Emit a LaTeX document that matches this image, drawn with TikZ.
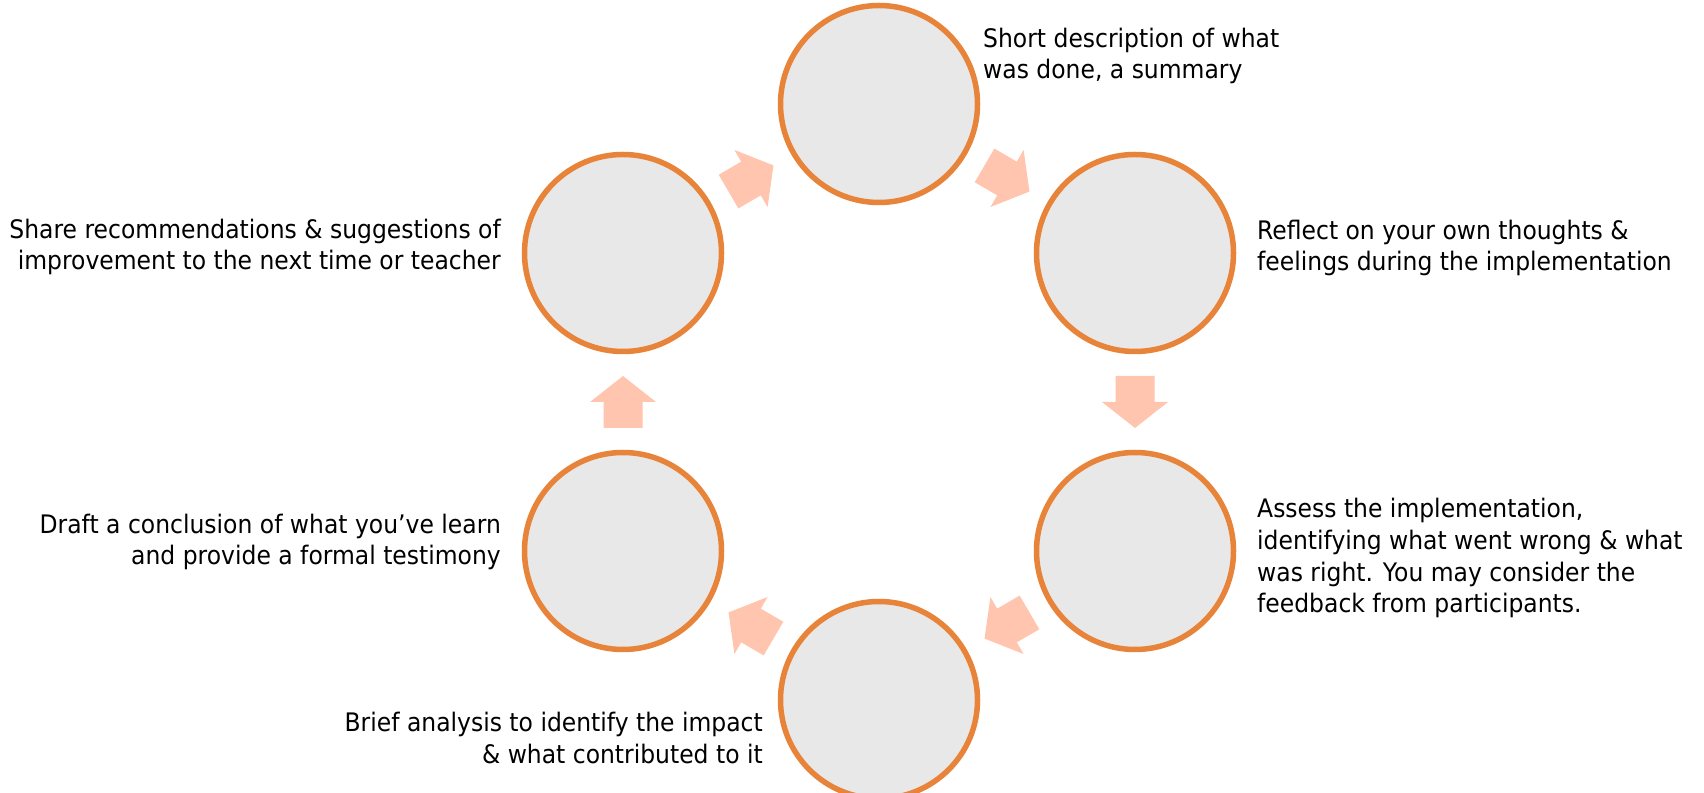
\documentclass[tikz,border=0pt]{standalone}
\usepackage{fontspec}
\setmainfont[FakeStretch=0.92]{DejaVu Sans}
\usetikzlibrary{calc}
\definecolor{ringorange}{HTML}{E8833A}
\definecolor{ringfill}{HTML}{E8E8E8}
\definecolor{arrowpink}{HTML}{FFC5AE}
\newcommand{\cyclearrow}[3]{%
  \fill[blockarrow, shift={($(#1.center)!0.5!(#2.center)$)}, rotate=#3]
    (-26,-19.5) -- (0,-19.5) -- (0,-33) -- (26,0) -- (0,33) -- (0,19.5) -- (-26,19.5) -- cycle;}
\begin{document}
\begin{tikzpicture}[x=1pt,y=1pt,
  stage/.style={circle, draw=ringorange, line width=5.5pt, fill=ringfill, minimum size=197pt, inner sep=0pt},
  lbl/.style={font=\fontsize{25.5}{31.7}\selectfont, inner sep=0pt, text=black},
  blockarrow/.style={fill=arrowpink, draw=none}]
\useasboundingbox (0,0) rectangle (1704,792);
\node[stage] (s1) at (879,688) {};
\node[stage] (s2) at (1135,539) {};
\node[stage] (s3) at (1135,241) {};
\node[stage] (s4) at (879,92) {};
\node[stage] (s5) at (623,241) {};
\node[stage] (s6) at (623,539) {};
\cyclearrow{s1}{s2}{-30.2}
\cyclearrow{s2}{s3}{-90}
\cyclearrow{s3}{s4}{-149.8}
\cyclearrow{s4}{s5}{149.8}
\cyclearrow{s5}{s6}{90}
\cyclearrow{s6}{s1}{30.2}
\node[lbl, align=left, anchor=base west] (t1) at (983,713) {Short description of what\\was done, a summary};
\node[lbl, align=left, anchor=base west] (t2) at (1257,521) {Reflect on your own thoughts \&\\feelings during the implementation};
\node[lbl, align=left, anchor=base west] (t3) at (1257,179) {Assess the implementation,\\identifying what went wrong \& what\\was right. You may consider the\\feedback from participants.};
\node[lbl, align=right, anchor=base east] (t4) at (763,29) {Brief analysis to identify the impact\\\& what contributed to it};
\node[lbl, align=right, anchor=base east] (t5) at (501,227) {Draft a conclusion of what you’ve learn\\and provide a formal testimony};
\node[lbl, align=right, anchor=base east] (t6) at (501,522) {Share recommendations \& suggestions of\\improvement to the next time or teacher};
\end{tikzpicture}
\end{document}
